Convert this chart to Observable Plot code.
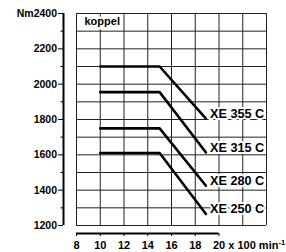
<!DOCTYPE html>
<html><head><meta charset="utf-8">
<script src="https://cdn.jsdelivr.net/npm/d3@7"></script>
<script src="https://cdn.jsdelivr.net/npm/@observablehq/plot@0.6"></script>
<style>body{margin:0;background:#fff}</style>
</head><body><div id="chart"></div>
<script>
// ---- data ----
const speeds = [10, 15, 18.9];
const series = ["XE 355 C", "XE 315 C", "XE 280 C", "XE 250 C"];
const torque355 = [2100, 2100, 1805];
const torque315 = [1955, 1955, 1613];
const torque280 = [1750, 1750, 1425];
const torque250 = [1610, 1610, 1265];
const torques = [torque355, torque315, torque280, torque250];

const xDomain = [8, 24];
const yDomain = [1200, 2400];
const xGrid = [8, 10, 12, 14, 16, 18, 20, 22, 24];
const xTicks = [8, 10, 12, 14, 16, 18, 20];
const yMajor = [1200, 1400, 1600, 1800, 2000, 2200, 2400];
const yMinor = [1300, 1500, 1700, 1900, 2100, 2300];
const yGrid = [1200, 1300, 1400, 1500, 1600, 1700, 1800, 1900, 2000, 2100, 2200, 2300, 2400];
const yUnit = "Nm";
const xUnit = "x 100 min";
const xUnitExp = "-1";
const title = "koppel";

// ---- build tables ----
const lineData = [];
series.forEach((s, i) => speeds.forEach((v, j) => lineData.push({series: s, speed: v, torque: torques[i][j]})));
const labelData = series.map((s, i) => ({series: s, speed: speeds[speeds.length - 1], torque: torques[i][torques[i].length - 1]}));
const xLast = xTicks[xTicks.length - 1];
const yLast = yMajor[yMajor.length - 1];

const font = "'Liberation Sans', Arial, Helvetica, sans-serif";
const gridColor = "#222";

const chart = Plot.plot({
  width: 286,
  height: 252,
  marginLeft: 76,
  marginRight: 20,
  marginTop: 13,
  marginBottom: 27,
  style: {fontFamily: font, fontWeight: "bold", background: "#fff", color: "#000"},
  x: {domain: xDomain, label: null},
  y: {domain: yDomain, label: null},
  marks: [
    Plot.gridX(xGrid, {stroke: gridColor, strokeOpacity: 1, strokeWidth: 1}),
    Plot.gridY(yGrid, {stroke: gridColor, strokeOpacity: 1, strokeWidth: 1}),
    // detached axis lines
    Plot.ruleX([xDomain[0]], {dx: -13, stroke: "#000", strokeWidth: 2}),
    Plot.ruleY([yDomain[0]], {x1: () => xTicks[0], x2: () => xLast, dy: 8, stroke: "#000", strokeWidth: 1.8}),
    Plot.axisY({ticks: yMajor, dx: -13, tickSize: 5, tickPadding: 1.5, fontSize: 10.5, fontWeight: "bold", label: null,
      tickFormat: d => d === yLast ? yUnit + d : String(d)}),
    Plot.axisY({ticks: yMinor, dx: -13, tickSize: 2.5, label: null, tickFormat: () => ""}),
    Plot.axisX({ticks: xTicks, dy: 8, tickSize: 3, tickPadding: 4.5, fontSize: 11, fontWeight: "bold", label: null,
      tickFormat: d => d === xLast ? "" : String(d)}),
    Plot.text([xLast], {x: d => d, frameAnchor: "bottom", dy: 15.5, dx: -6, lineAnchor: "top", textAnchor: "start",
      text: d => d + " " + xUnit, fontSize: 11, fontWeight: "bold", fill: "#000"}),
    // curves
    Plot.line(lineData, {x: "speed", y: "torque", z: "series", stroke: "#000", strokeWidth: 2.6, strokeLinejoin: "miter"}),
    Plot.text(labelData, {x: "speed", y: "torque", text: "series", dx: 4, dy: -5, textAnchor: "start",
      fontSize: 12.7, fontWeight: "bold", fill: "#000", stroke: "#fff", strokeWidth: 4}),
    Plot.text([title], {x: () => xDomain[0], y: () => yDomain[1], text: d => d, dx: 8, dy: 3.5, lineAnchor: "top",
      textAnchor: "start", fontSize: 11, fontWeight: "bold", fill: "#000", stroke: "#fff", strokeWidth: 5})
  ]
});
document.getElementById("chart").appendChild(chart);
// superscript exponent on the unit
chart.querySelectorAll("text").forEach(t => {
  if (t.textContent === xLast + " " + xUnit) {
    const ts = document.createElementNS("http://www.w3.org/2000/svg", "tspan");
    ts.setAttribute("baseline-shift", "super");
    ts.setAttribute("font-size", "7.5");
    ts.textContent = xUnitExp;
    t.appendChild(ts);
  }
});
</script></body></html>
